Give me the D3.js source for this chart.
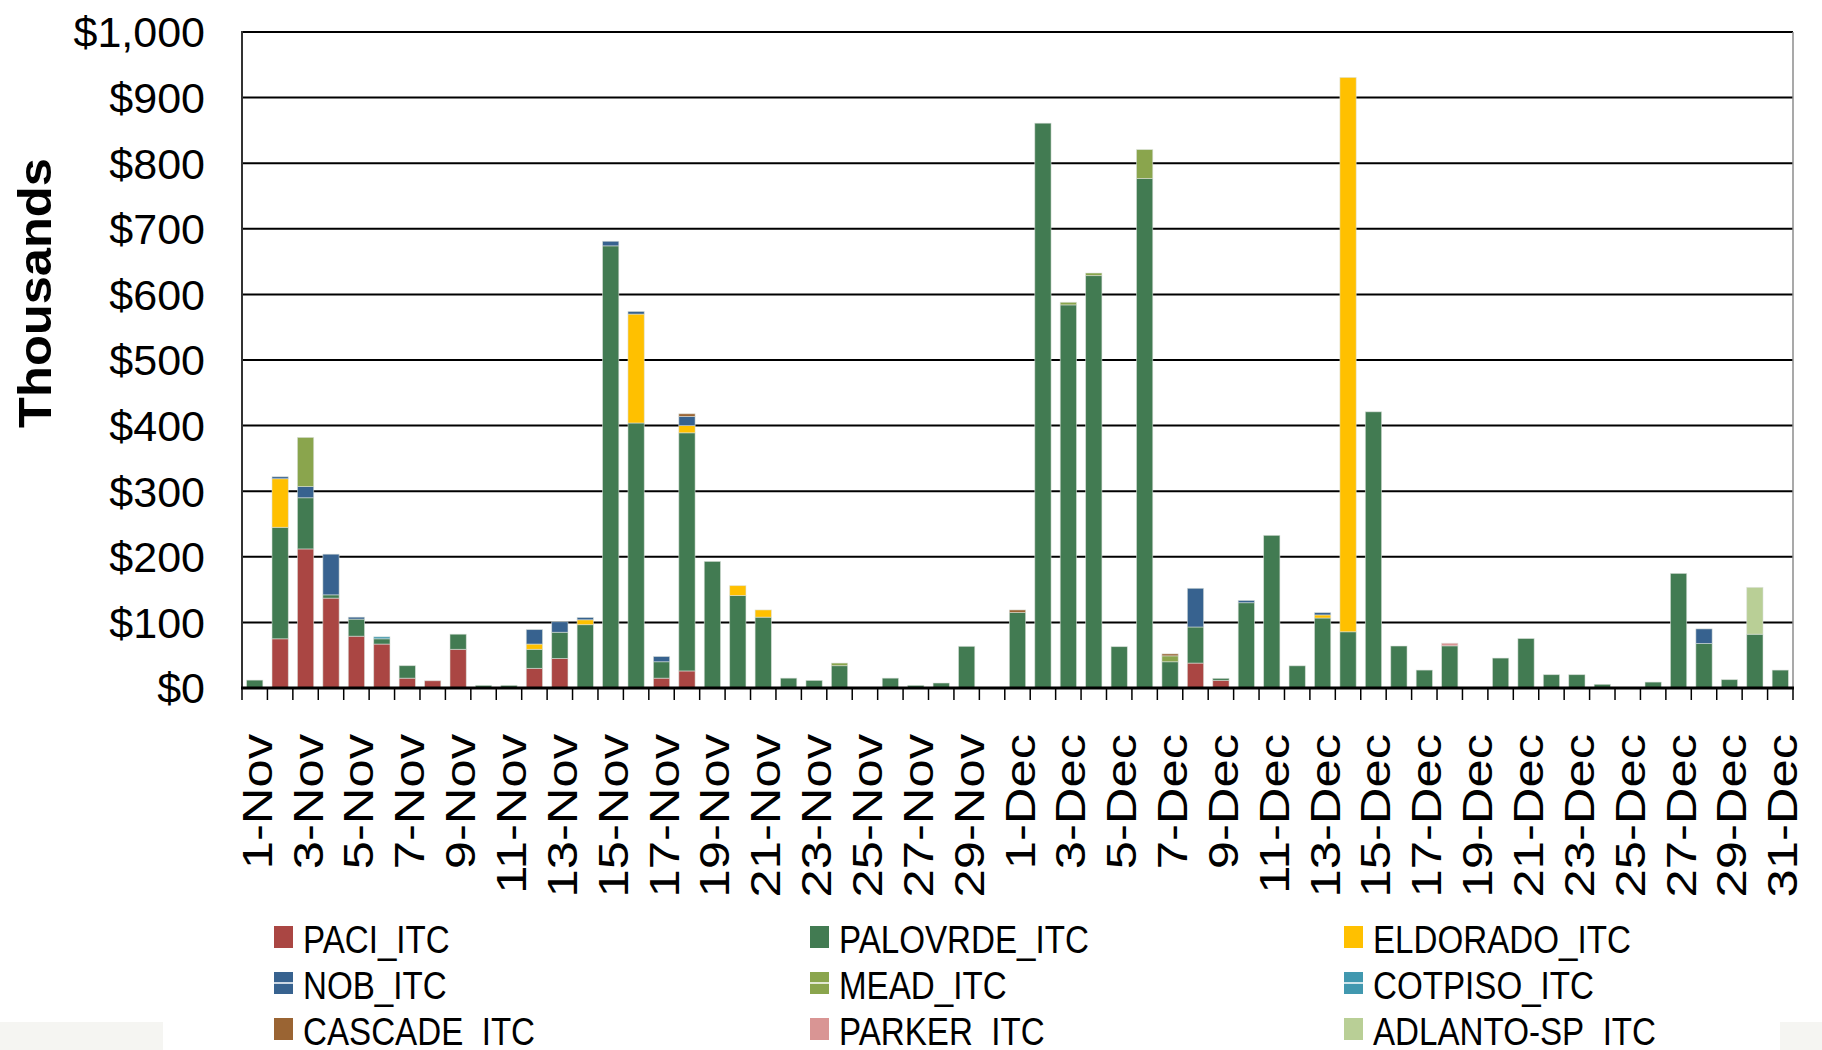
<!DOCTYPE html>
<html>
<head>
<meta charset="utf-8">
<script src="https://cdn.jsdelivr.net/npm/d3@7"></script>
<style>
  body { margin: 0; background: #fff; }
  svg { display: block; font-family: "Liberation Sans", Arial, sans-serif; }
</style>
</head>
<body>
<div id="chart"></div>
<script>
// Day labels, Nov 1 .. Dec 31
const categories = [
  "1-Nov","2-Nov","3-Nov","4-Nov","5-Nov","6-Nov","7-Nov","8-Nov","9-Nov","10-Nov",
  "11-Nov","12-Nov","13-Nov","14-Nov","15-Nov","16-Nov","17-Nov","18-Nov","19-Nov","20-Nov",
  "21-Nov","22-Nov","23-Nov","24-Nov","25-Nov","26-Nov","27-Nov","28-Nov","29-Nov","30-Nov",
  "1-Dec","2-Dec","3-Dec","4-Dec","5-Dec","6-Dec","7-Dec","8-Dec","9-Dec","10-Dec",
  "11-Dec","12-Dec","13-Dec","14-Dec","15-Dec","16-Dec","17-Dec","18-Dec","19-Dec","20-Dec",
  "21-Dec","22-Dec","23-Dec","24-Dec","25-Dec","26-Dec","27-Dec","28-Dec","29-Dec","30-Dec",
  "31-Dec"
];

// only every other day gets a label
const tickLabels = categories.filter((d, i) => i % 2 === 0);

const seriesNames = ["PACI_ITC", "PALOVRDE_ITC", "ELDORADO_ITC", "NOB_ITC", "MEAD_ITC",
  "COTPISO_ITC", "CASCADE_ITC", "PARKER_ITC", "ADLANTO-SP_ITC"];

// values in $ thousands
const paci = [
  0, 75, 212, 137, 79, 67, 15, 11, 59, 0,
  0, 30, 45, 0, 0, 0, 15, 26, 0, 0,
  0, 0, 0, 0, 0, 0, 0, 0, 0, 0,
  0, 0, 0, 0, 0, 0, 0, 38, 11.7, 0,
  0, 0, 0, 0, 0, 0, 0, 0, 0, 0,
  0, 0, 0, 0, 0, 0, 0, 0, 0, 0,
  0
];
const palovrde = [
  12, 170, 78, 5, 26, 8, 19, 0, 23, 4,
  4, 29, 40, 96.5, 674, 404, 25, 363, 193, 141,
  108, 15, 11.6, 34, 0, 15, 4, 7.6, 63.5, 0,
  115, 861, 584, 628.6, 63, 776.7, 40, 55, 3, 130,
  232.7, 33.8, 106.7, 85.7, 421, 64, 27.3, 64.3, 0, 45.6,
  75.4, 20.3, 20.3, 5.6, 0, 9, 174.7, 67.8, 12.7, 82,
  27.3
];
const eldorado = [
  0, 74, 0, 0, 0, 0, 0, 0, 0, 0,
  0, 8, 0, 7.5, 0, 166, 0, 11, 0, 15,
  11, 0, 0, 0, 0, 0, 0, 0, 0, 0,
  0, 0, 0, 0, 0, 0, 0, 0, 0, 0,
  0, 0, 4.7, 845, 0, 0, 0, 0, 0, 0,
  0, 0, 0, 0, 0, 0, 0, 0, 0, 0,
  0
];
const nob = [
  0, 3, 17, 62, 3, 0, 0, 0, 0, 0,
  0, 22, 16, 3.5, 7, 4, 8, 14, 0, 0,
  0, 0, 0, 0, 0, 0, 0, 0, 0, 0,
  0, 0, 0, 0, 0, 0, 0, 59, 0, 3.5,
  0, 0, 3.5, 0, 0, 0, 0, 0, 0, 0,
  0, 0, 0, 0, 0, 0, 0, 22.3, 0, 0,
  0
];
const mead = [
  0, 0, 75, 0, 0, 0, 0, 0, 0, 0,
  0, 0, 0, 0, 0, 0, 0, 0, 0, 0,
  0, 0, 0, 4, 0, 0, 0, 0, 0, 0,
  0, 0, 4, 4, 0, 44, 9, 0, 0, 0,
  0, 0, 0, 0, 0, 0, 0, 0, 0, 0,
  0, 0, 0, 0, 0, 0, 0, 0, 0, 0,
  0
];
const cotpiso = [
  0, 0, 0, 0, 0, 3, 0, 0, 0, 0,
  0, 0, 0, 0, 0, 0, 0, 0, 0, 0,
  0, 0, 0, 0, 0, 0, 0, 0, 0, 0,
  0, 0, 0, 0, 0, 0, 0, 0, 0, 0,
  0, 0, 0, 0, 0, 0, 0, 0, 0, 0,
  0, 0, 0, 0, 0, 0, 0, 0, 0, 0,
  0
];
const cascade = [
  0, 0, 0, 0, 0, 0, 0, 0, 0, 0,
  0, 0, 0, 0, 0, 0, 0, 4, 0, 0,
  0, 0, 0, 0, 0, 0, 0, 0, 0, 0,
  4, 0, 0, 0, 0, 0, 3, 0, 0, 0,
  0, 0, 0, 0, 0, 0, 0, 0, 0, 0,
  0, 0, 0, 0, 0, 0, 0, 0, 0, 0,
  0
];
const parker = [
  0, 0, 0, 0, 0, 0, 0, 0, 0, 0,
  0, 0, 0, 0, 0, 0, 0, 0, 0, 0,
  0, 0, 0, 0, 0, 0, 0, 0, 0, 0,
  0, 0, 0, 0, 0, 0, 0, 0, 0, 0,
  0, 0, 0, 0, 0, 0, 0, 4, 0, 0,
  0, 0, 0, 0, 0, 0, 0, 0, 0, 0,
  0
];
const adlanto = [
  0, 0, 0, 0, 0, 0, 0, 0, 0, 0,
  0, 0, 0, 0, 0, 0, 0, 0, 0, 0,
  0, 0, 0, 0, 0, 0, 0, 0, 0, 0,
  0, 0, 0, 0, 0, 0, 0, 0, 0, 0,
  0, 0, 0, 0, 0, 0, 0, 0, 0, 0,
  0, 0, 0, 0, 0, 0, 0, 0, 0, 71.4,
  0
];

const yTicks = [0, 100, 200, 300, 400, 500, 600, 700, 800, 900, 1000];

const colors = ["#aa4643", "#427b52", "#ffc000", "#37628f", "#8aa54d",
  "#4198af", "#9a6433", "#d99594", "#b9cf96"];

const W = 1822, H = 1050;
const plot = { left: 242, right: 1793, top: 32, bottom: 688 };

const svg = d3.select("#chart").append("svg")
  .attr("width", W)
  .attr("height", H);

// table for the stack layout
const seriesValues = [paci, palovrde, eldorado, nob, mead, cotpiso, cascade, parker, adlanto];
const table = categories.map((c, i) => {
  const row = { day: c };
  seriesNames.forEach((s, k) => { row[s] = seriesValues[k][i]; });
  return row;
});
const stacked = d3.stack().keys(seriesNames)(table);

const xScale = d3.scaleBand()
  .domain(categories)
  .range([plot.left, plot.right])
  .padding(0);
const yScale = d3.scaleLinear()
  .domain([0, 1000])
  .range([plot.bottom, plot.top]);

const barW = xScale.bandwidth() * 0.64;

// faint corner patches seen in the original image
svg.append("rect").attr("x", 0).attr("y", 1022).attr("width", 163).attr("height", 28)
  .attr("fill", "#f5f5f2");
svg.append("rect").attr("x", 1780).attr("y", 1022).attr("width", 42).attr("height", 28)
  .attr("fill", "#f5f5f2");

// gridlines
svg.append("g")
  .selectAll("line")
  .data(yTicks.filter(d => d > 0))
  .join("line")
  .attr("x1", plot.left)
  .attr("x2", plot.right)
  .attr("y1", d => yScale(d))
  .attr("y2", d => yScale(d))
  .attr("stroke", "#000")
  .attr("stroke-width", 2);

// right border of plot
svg.append("line")
  .attr("x1", plot.right).attr("x2", plot.right)
  .attr("y1", plot.top).attr("y2", plot.bottom)
  .attr("stroke", "#8c8c8c").attr("stroke-width", 1.5);

// stacked bars
svg.append("g")
  .selectAll("g")
  .data(stacked)
  .join("g")
  .attr("fill", (d, i) => colors[i])
  .selectAll("rect")
  .data(d => d.filter(p => p[1] - p[0] > 0))
  .join("rect")
  .attr("x", d => xScale(d.data.day) + (xScale.bandwidth() - barW) / 2)
  .attr("y", d => yScale(d[1]))
  .attr("width", barW)
  .attr("height", d => yScale(d[0]) - yScale(d[1]))
  .attr("stroke", "rgba(220,225,220,0.7)")
  .attr("stroke-width", 0.8);

// y axis line
svg.append("line")
  .attr("x1", plot.left).attr("x2", plot.left)
  .attr("y1", plot.top - 1).attr("y2", plot.bottom)
  .attr("stroke", "#333").attr("stroke-width", 2);

// y tick labels
svg.append("g")
  .selectAll("text")
  .data(yTicks)
  .join("text")
  .attr("x", 205)
  .attr("y", d => yScale(d))
  .attr("dy", "0.36em")
  .attr("text-anchor", "end")
  .attr("font-size", 43)
  .attr("fill", "#000")
  .text(d => "$" + d3.format(",")(d));

// y axis title
svg.append("text")
  .attr("transform", "translate(51,293) rotate(-90) scale(1.1,1)")
  .attr("text-anchor", "middle")
  .attr("font-size", 46)
  .attr("font-weight", "bold")
  .text("Thousands");

// x baseline
svg.append("line")
  .attr("x1", plot.left - 1).attr("x2", plot.right + 1)
  .attr("y1", plot.bottom).attr("y2", plot.bottom)
  .attr("stroke", "#000").attr("stroke-width", 3);

// x ticks at band boundaries
const boundaries = categories.map(c => xScale(c)).concat([plot.right]);
svg.append("g")
  .selectAll("line")
  .data(boundaries)
  .join("line")
  .attr("x1", d => d).attr("x2", d => d)
  .attr("y1", plot.bottom).attr("y2", plot.bottom + 12)
  .attr("stroke", "#000").attr("stroke-width", 1.5);

// x tick labels
svg.append("g")
  .selectAll("text")
  .data(tickLabels)
  .join("text")
  .attr("transform", d => `translate(${xScale(d) + xScale.bandwidth() / 2 + 17},734) rotate(-90) scale(1.18,1)`)
  .attr("text-anchor", "end")
  .attr("font-size", 43)
  .attr("fill", "#000")
  .text(d => d);

// legend, three columns (bottom row is clipped by the page edge, like the original)
const legendCols = [274, 810, 1344];
const legendRows = [937, 983, 1029];
const $legend = svg.append("g")
  .selectAll("g")
  .data(seriesNames)
  .join("g")
  .attr("transform", (d, i) => `translate(${legendCols[i % 3]},${legendRows[Math.floor(i / 3)]})`);

$legend.append("rect")
  .attr("x", 0).attr("y", -11)
  .attr("width", 19).attr("height", 22)
  .attr("fill", (d, i) => colors[i]);

// white split line on a few of the swatches, as in the original
$legend.filter((d, i) => i === 3 || i === 4 || i === 5)
  .append("line")
  .attr("x1", 0).attr("x2", 19).attr("y1", 0).attr("y2", 0)
  .attr("stroke", "#fff").attr("stroke-width", 1.5);

$legend.append("text")
  .attr("transform", "translate(29,16) scale(0.85,1)")
  .attr("font-size", 39)
  .attr("fill", "#000")
  .text(d => d);
</script>
</body>
</html>
